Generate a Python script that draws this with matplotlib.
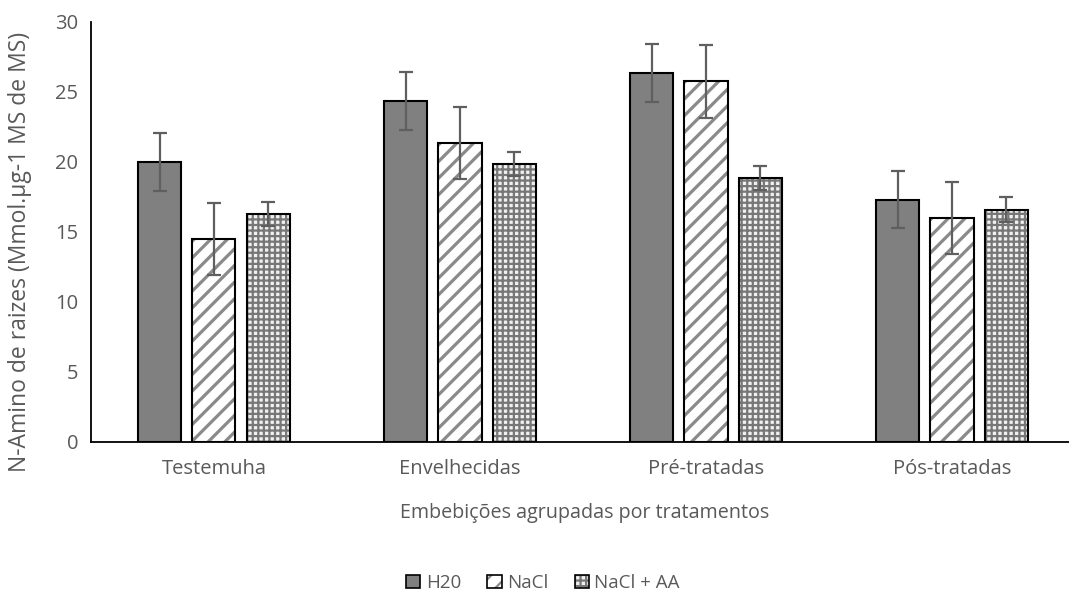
import matplotlib.pyplot as plt
import matplotlib.patches as mpatches
import numpy as np

grupos = ['Testemuha', 'Envelhecidas', 'Pré-tratadas', 'Pós-tratadas']
series = ['H20', 'NaCl', 'NaCl + AA']
h2o = [20.0, 24.35, 26.35, 17.3]
nacl = [14.5, 21.35, 25.75, 16.0]
nacl_aa = [16.3, 19.85, 18.85, 16.6]
erro_h2o = [2.05, 2.05, 2.05, 2.05]
erro_nacl = [2.6, 2.6, 2.6, 2.6]
erro_aa = [0.87, 0.87, 0.87, 0.87]

plt.rcParams['font.family'] = ['Open Sans', 'DejaVu Sans']
cinza = '#595959'

fig = plt.figure(figsize=(10.69, 5.92), dpi=100)
ax = fig.add_axes([0.0851, 0.2534, 0.9205, 0.7095])

x = np.arange(len(grupos))
passo = 0.22
larg = 0.175

# H20: cinza liso
ax.bar(x - passo, h2o, larg, color='#808080', edgecolor='black', linewidth=1.5, zorder=2)

# NaCl: listras diagonais (a hachura usa a cor da borda, por isso o contorno vai por cima)
plt.rcParams['hatch.linewidth'] = 2.3
ax.bar(x, nacl, larg, color='white', edgecolor='#8a8a8a', hatch='//', linewidth=0, zorder=2)
ax.bar(x, nacl, larg, color='none', edgecolor='black', linewidth=1.5, zorder=3)

# NaCl + AA: grade miuda
plt.rcParams['hatch.linewidth'] = 1.6
ax.bar(x + passo, nacl_aa, larg, color='#f0f0f0', edgecolor='#777777', hatch='+++', linewidth=0, zorder=2)
ax.bar(x + passo, nacl_aa, larg, color='none', edgecolor='black', linewidth=1.5, zorder=3)

for dx, v, e in [(-passo, h2o, erro_h2o), (0, nacl, erro_nacl), (passo, nacl_aa, erro_aa)]:
    ax.errorbar(x + dx, v, yerr=e, fmt='none', ecolor='#5f5f5f', elinewidth=1.6,
                capsize=5, capthick=1.6, zorder=4)

ax.set_xlim(-0.5, 3.5)
ax.set_ylim(0, 30)
ax.set_yticks(range(0, 31, 5))
ax.set_xticks(x)
ax.set_xticklabels(grupos)
ax.tick_params(axis='both', length=0, labelsize=14.5, labelcolor=cinza)
ax.tick_params(axis='x', pad=12)
ax.tick_params(axis='y', pad=9)
for s in ['top', 'right']:
    ax.spines[s].set_visible(False)
for s in ['left', 'bottom']:
    ax.spines[s].set_color('black')
    ax.spines[s].set_linewidth(1.3)

fig.text(0.547, 1 - 513 / 592, 'Embebições agrupadas por tratamentos', ha='center', va='center',
         fontsize=14.2, color=cinza)
fig.text(20 / 1069, 1 - 252 / 592, 'N-Amino de raizes (Mmol.µg-1 MS de MS)', ha='center',
         va='center', rotation=90, fontsize=16.5, color=cinza)

# legenda: quadrados com hachura e contorno preto sobrepostos
borda = dict(facecolor='none', edgecolor='black', linewidth=1.2)
alcas = [
    mpatches.Patch(facecolor='#808080', edgecolor='black', linewidth=1.2),
    (mpatches.Patch(facecolor='white', edgecolor='#8a8a8a', hatch='//', linewidth=0),
     mpatches.Patch(**borda)),
    (mpatches.Patch(facecolor='#f0f0f0', edgecolor='#777777', hatch='+++', linewidth=0),
     mpatches.Patch(**borda)),
]
leg = fig.legend(alcas, series, loc='center', bbox_to_anchor=(0.508, 1 - 583 / 592), ncol=3,
                 frameon=False, fontsize=13.5, handlelength=0.75, handleheight=0.75,
                 handletextpad=0.3, columnspacing=1.4)
for t in leg.get_texts():
    t.set_color(cinza)

fig.savefig('out.png', dpi=100)
